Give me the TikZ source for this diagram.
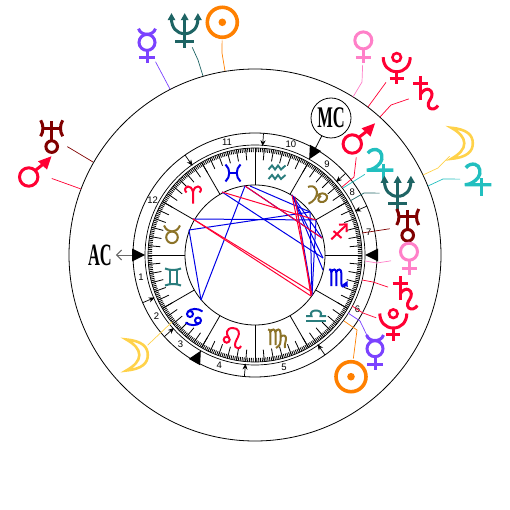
\documentclass[tikz,border=0pt]{standalone}
\usepackage{fontspec}
\usepackage{graphicx}
\usepackage{xcolor}
\usetikzlibrary{arrows.meta,calc}
\setmainfont{Liberation Serif}
\setsansfont{Liberation Sans}
\definecolor{redglyph}{HTML}{ff0033}
\definecolor{maroonglyph}{HTML}{800000}
\definecolor{pinkglyph}{HTML}{ff80c8}
\definecolor{purpleglyph}{HTML}{7b42ff}
\definecolor{orangeglyph}{HTML}{ff8000}
\definecolor{yellowglyph}{HTML}{ffd24a}
\definecolor{aquaglyph}{HTML}{22bfbf}
\definecolor{tealglyph}{HTML}{1e6464}
\definecolor{greenglyph}{HTML}{2a7d7d}
\definecolor{oliveglyph}{HTML}{8c7328}
\definecolor{blueglyph}{HTML}{0000e6}
\tikzset{
    planet/.style={circle, inner sep=0pt, minimum size=36pt},
    link/.style={line width=0.7pt},
    aspect/.style={line width=1pt},
    heavy/.style={line width=3pt},
    medium/.style={line width=2pt},
    % Planets
    pics/venus/.style={code={
        \draw[heavy] (0,-6.3) circle (8.5);
        \draw[heavy] (0,2.2) -- (0,16.5) (-7.5,10.5) -- (7.5,10.5);
    }},
    pics/mercury/.style={code={
        \draw[heavy] (0,-3.3) circle (8);
        \draw[heavy] (-8.5,-17) .. controls (-7,-12.5) and (-3,-11.5) .. (0,-11.5) .. controls (3,-11.5) and (7,-12.5) .. (8.5,-17);
        \draw[heavy] (0,4.7) -- (0,17.5) (-8,12) -- (8,12);
    }},
    pics/mars/.style={code={
        \draw[heavy] (-6,4.7) circle (9.2);
        \draw[heavy] (0.6,-1.9) -- (9,-8.5);
        \fill (16.7,-16) -- (3.3,-11) -- (12.3,-2.7) -- cycle;
    }},
    pics/jupiter/.style={code={
        \draw[line width=3.4pt] (-12.5,-11.5) .. controls (-10,-15) and (-6,-15.5) .. (-3.5,-15) .. controls (2,-14) and (3,-6) .. (0,-2) .. controls (-3,2) and (-8,5.5) .. (-13.5,5.5) -- (13,5.5);
        \draw[line width=3.4pt] (3,-1) -- (3,16.7);
    }},
    pics/saturn/.style={code={
        \draw[heavy] (-5.3,-17) -- (-5.3,7) (-12.7,-9.7) -- (2.3,-9.7);
        \draw[heavy] (-5.3,1) .. controls (-3,-3) and (1,-4.5) .. (3,-3.5) .. controls (7,-1.5) and (6.5,3) .. (4.5,6) .. controls (2.5,9) and (1,12) .. (3.5,15) .. controls (6,17) and (10,16) .. (12,12.5);
    }},
    pics/uranus/.style={code={
        \draw[heavy] (0,-16) -- (0,3.5) (-9.5,-9) -- (9.5,-9);
        \draw[heavy] (-11,-17) .. controls (-8,-12) and (-8,-6) .. (-11,-1);
        \draw[heavy] (11,-17) .. controls (8,-12) and (8,-6) .. (11,-1);
        \draw[heavy] (0,9.3) circle (5.8);
    }},
    pics/neptune/.style={code={
        \draw[heavy] (-13.2,-12) .. controls (-13.2,-3) and (-8,3) .. (0,3) .. controls (8,3) and (13.2,-3) .. (13.2,-12);
        \draw[heavy] (0,-12) -- (0,17) (-9.5,10.7) -- (9.5,10.7);
        \foreach \x in {-13.2,0,13.2}
            \fill (\x,-17.5) -- (\x+4,-10.5) -- (\x-4,-10.5) -- cycle;
    }},
    pics/pluto/.style={code={
        \draw[line width=2.6pt] (0,-10.3) circle (4.3);
        \draw[heavy] (-13.5,-10.5) .. controls (-13.5,-2) and (-8,4) .. (0,4) .. controls (8,4) and (13.5,-2) .. (13.5,-10.5);
        \draw[heavy] (0,4) -- (0,16.7) (-7,10.7) -- (7,10.7);
    }},
    pics/sun/.style={code={
        \draw[line width=3.6pt] (0,0) circle (15);
        \fill (0,0) circle (3.8);
    }},
    pics/moon/.style={code={
        \draw[line width=2.6pt, line join=miter] (-11,-15.5) .. controls (5,-14) and (10.5,-8) .. (10.5,0) .. controls (10.5,8) and (5,14) .. (-11,15.5) .. controls (-3,11) and (2,6) .. (2,0) .. controls (2,-6) and (-3,-11) .. cycle;
    }},
    % Signs
    pics/aries/.style={code={
        \draw[medium] (0,8.7) -- (0,-3) .. controls (-1,-7) and (-3,-8.7) .. (-5,-8.5) .. controls (-8,-8) and (-9,-4.5) .. (-6.5,-2.5);
        \draw[medium] (0,-3) .. controls (1,-7) and (3,-8.7) .. (5,-8.5) .. controls (8,-8) and (9,-4.5) .. (6.5,-2.5);
    }},
    pics/taurus/.style={code={
        \draw[medium] (0,3.3) circle (5.8);
        \draw[medium] (-8,-8.5) .. controls (-6,-4) and (-3,-2.5) .. (0,-2.5) .. controls (3,-2.5) and (6,-4) .. (8,-8.5);
    }},
    pics/gemini/.style={code={
        \draw[medium] (-8,-8.5) .. controls (-3,-6.5) and (3,-6.5) .. (8,-8.5);
        \draw[medium] (-8,8.5) .. controls (-3,6.5) and (3,6.5) .. (8,8.5);
        \draw[medium] (-3.5,-7) -- (-3.5,7) (3.5,-7) -- (3.5,7);
    }},
    pics/cancer/.style={code={
        \draw[medium] (-4,-3) circle (3);
        \draw[medium] (4,3.5) circle (3);
        \draw[medium] (-6.5,-5) .. controls (-3,-9) and (4,-9) .. (8.5,-5.5);
        \draw[medium] (6.5,5.5) .. controls (3,9) and (-4,9) .. (-8.5,5.5);
    }},
    pics/leo/.style={code={
        \draw[medium] (-5.3,1.7) circle (3);
        \draw[medium] (-3.5,-0.8) .. controls (-6,-4) and (-6,-10) .. (0.7,-10) .. controls (7,-10) and (8,-5) .. (6,-1) .. controls (4,3) and (2,6) .. (3.5,9) .. controls (4.5,11) and (8,11) .. (9,8);
    }},
    pics/virgo/.style={code={
        \draw[medium] (-9,-8.5) .. controls (-7,-9.5) and (-6.7,-7) .. (-6.7,-5) -- (-6.7,7);
        \draw[medium] (-6.7,-6) .. controls (-5,-9.5) and (-1.5,-9.5) .. (-1.5,-5) -- (-1.5,7);
        \draw[medium] (-1.5,-6) .. controls (0,-9.5) and (3.5,-9.5) .. (3.5,-5) -- (3.5,3) .. controls (3.5,7) and (1,9) .. (-1,10);
        \draw[medium] (3.5,-1) .. controls (6,-4) and (9.5,-2.5) .. (9,1) .. controls (8.5,5) and (7,8) .. (8,10);
    }},
    pics/libra/.style={code={
        \draw[medium] (-10,5) -- (10,5);
        \draw[medium] (-10,0) -- (-4.5,0) .. controls (-6.5,-4) and (-3,-5.5) .. (0,-5.5) .. controls (3,-5.5) and (6.5,-4) .. (4.5,0) -- (10,0);
    }},
    pics/scorpio/.style={code={
        \draw[medium] (-9,-8.5) .. controls (-7.5,-9.5) and (-6.7,-8) .. (-6.7,-5) -- (-6.7,8);
        \draw[medium] (-6.7,-6) .. controls (-5,-9.5) and (-1.7,-9.5) .. (-1.7,-5) -- (-1.7,8);
        \draw[medium] (-1.7,-6) .. controls (0,-9.5) and (3.3,-9.5) .. (3.3,-5) -- (3.3,5) .. controls (3.3,9) and (6,10) .. (8,6);
        \fill (9.5,3) -- (9.8,9) -- (4.5,6.5) -- cycle;
    }},
    pics/sagittarius/.style={code={
        \draw[medium] (-7.7,7.3) -- (7,-6.7);
        \draw[medium] (-5.5,-1) -- (2.5,6);
        \draw[medium] (0,-7.3) -- (7.7,-7.7) -- (7.7,0);
    }},
    pics/capricorn/.style={code={
        \draw[medium] (-10,-8) .. controls (-7,-9.5) and (-4,-9) .. (-2,-6) -- (-1,-3) .. controls (-1,2) and (-4,6.5) .. (-9.5,8.7);
        \draw[medium] (-1,1) .. controls (2,-2.5) and (7,-2.5) .. (9,1) .. controls (10,4.5) and (6,8) .. (2.5,7) .. controls (-1,6) and (0,2) .. (3,1);
    }},
    pics/aquarius/.style={code={
        \foreach \y in {-5,4.5}
            \draw[line width=1.9pt, yshift=\y pt] (-8.5,2) -- (-5,-2) -- (-2,2) -- (1,-2) -- (4,2) -- (8.5,-2);
    }},
    pics/pisces/.style={code={
        \draw[medium] (-7.5,-8.5) .. controls (-2.5,-4) and (-2.5,4) .. (-7.5,8.5);
        \draw[medium] (7.5,-8.5) .. controls (2.5,-4) and (2.5,4) .. (7.5,8.5);
        \draw[medium] (-4,0) -- (4,0);
    }}
}

\begin{document}
\begin{tikzpicture}[x=1pt, y=-1pt]
    \useasboundingbox (0,0) rectangle (510,510);

    % Wheel
    \begin{scope}[shift={(255,255)}, y=1pt]
        \draw[line width=0.8pt] (0,0) circle (186);
        \draw[line width=0.8pt] (0,0) circle (122);
        \draw[line width=0.7pt] (0,0) circle (110);
        \draw[line width=0.7pt] (0,0) circle (107);
        \draw[line width=0.8pt] (0,0) circle (70);
        \foreach \a in {0,1,...,359} \draw[line width=0.8pt] (\a:107) -- (\a:103);
        \foreach \a in {0,5,...,355} \draw[line width=0.8pt] (\a:107) -- (\a:95);
        \foreach \a in {0,30,...,330} \draw[line width=0.8pt] (\a:107) -- (\a:70);
        % House marks
        \foreach \a in {23.6,42,86,125,203,222,265,305}
            \draw[-{Stealth[length=6pt,width=5pt]}, line width=0.7pt] (\a:122) -- (\a:109);
        \foreach \a in {0,60.5,180,240.5}
            \fill[rotate=\a] (110,0) -- (123,6.5) -- (123,-6.5) -- cycle;
        % House numbers
        \foreach \a/\t in {191/1,212/2,230/3,252/4,284.5/5,332/6,11.5/7,33/8,51.6/9,72/10,104/11,152/12}
            \node[font=\sffamily\fontsize{9.5}{9.5}\selectfont, inner sep=0pt] (house\t) at (\a:116) {\t};
        \coordinate (acmark) at (180:123);
        \coordinate (mcmark) at (60.5:123);
    \end{scope}

    % Signs
    \pic[redglyph] at (193,195) {aries};
    \pic[oliveglyph] at (172,234) {taurus};
    \pic[greenglyph] at (173,277) {gemini};
    \pic[blueglyph] at (194,317) {cancer};
    \pic[redglyph] at (232,338) {leo};
    \pic[oliveglyph] at (277,338) {virgo};
    \pic[greenglyph] at (316,316) {libra};
    \pic[blueglyph] at (338,278) {scorpio};
    \pic[redglyph] at (339,232) {sagittarius};
    \pic[oliveglyph] at (318,195) {capricorn};
    \pic[greenglyph] at (277,172) {aquarius};
    \pic[blueglyph] at (233,173) {pisces};

    % Angles
    \node[circle, draw, line width=0.8pt, minimum size=40pt, inner sep=0pt] (mc) at (331,118) {\scalebox{0.55}[1]{\bfseries\fontsize{30}{30}\selectfont MC}};
    \node[inner sep=0pt, outer sep=4pt] (ac) at (100,255) {\scalebox{0.53}[1]{\bfseries\fontsize{31}{31}\selectfont AC}};
    \draw[line width=0.8pt] (mc) -- (mcmark);
    \draw[-{Straight Barb[length=5pt,width=10pt]}, line width=1pt, black!60] (acmark) -- (ac);

    % Outer planets
    \node[planet] (venusout) at (363.3,46.7) {}; \pic[pinkglyph] at (venusout) {venus};
    \node[planet] (plutoout) at (396.7,67.7) {}; \pic[redglyph] at (plutoout) {pluto};
    \node[planet] (saturnout) at (426,93) {}; \pic[redglyph] at (saturnout) {saturn};
    \node[planet] (moonout) at (462.3,143.3) {}; \pic[yellowglyph] at (moonout) {moon};
    \node[planet] (jupiterout) at (478.3,179.3) {}; \pic[aquaglyph] at (jupiterout) {jupiter};
    \node[planet] (uranusout) at (51.7,137.3) {}; \pic[maroonglyph] at (uranusout) {uranus};
    \node[planet] (marsout) at (34.7,172.3) {}; \pic[redglyph] at (marsout) {mars};
    \node[planet] (mercuryout) at (147,45.7) {}; \pic[purpleglyph] at (mercuryout) {mercury};
    \node[planet] (neptuneout) at (184.7,30.7) {}; \pic[tealglyph] at (neptuneout) {neptune};
    \node[planet] (sunout) at (222.3,22.3) {}; \pic[orangeglyph] at (sunout) {sun};

    % Inner planets
    \node[planet] (marsin) at (358.3,139.3) {}; \pic[redglyph] at (marsin) {mars};
    \node[planet] (jupiterin) at (380.3,164.7) {}; \pic[aquaglyph] at (jupiterin) {jupiter};
    \node[planet] (neptunein) at (397.7,193.3) {}; \pic[tealglyph] at (neptunein) {neptune};
    \node[planet] (uranusin) at (407.7,226) {}; \pic[maroonglyph] at (uranusin) {uranus};
    \node[planet] (venusin) at (409,258) {}; \pic[pinkglyph] at (venusin) {venus};
    \node[planet] (saturnin) at (405.3,293) {}; \pic[redglyph] at (saturnin) {saturn};
    \node[planet] (plutoin) at (393.3,324) {}; \pic[redglyph] at (plutoin) {pluto};
    \node[planet] (mercuryin) at (375,352) {}; \pic[purpleglyph] at (mercuryin) {mercury};
    \node[planet] (sunin) at (351,376.7) {}; \pic[orangeglyph] at (sunin) {sun};
    \node[planet, minimum size=28pt] (moonin) at (137.3,355) {}; \pic[yellowglyph] at (moonin) {moon};

    % Link ends on the rings
    \coordinate (venusoutend) at (353,97);
    \coordinate (plutooutend) at (368,107);
    \coordinate (saturnoutend) at (380,117);
    \coordinate (moonoutend) at (423,175);
    \coordinate (jupiteroutend) at (428,186);
    \coordinate (uranusoutend) at (93,162);
    \coordinate (marsoutend) at (81,189);
    \coordinate (mercuryoutend) at (170,89);
    \coordinate (neptuneoutend) at (203,76);
    \coordinate (sunoutend) at (225,71);
    \coordinate (marsinend) at (342,187);
    \coordinate (jupiterinend) at (343,188);
    \coordinate (neptuneinend) at (350,201);
    \coordinate (uranusinend) at (362,233);
    \coordinate (venusinend) at (365,261);
    \coordinate (saturninend) at (362,280);
    \coordinate (plutoinend) at (352,306);
    \coordinate (mercuryinend) at (348,313);
    \coordinate (suninend) at (344,321);
    \coordinate (mooninend) at (172,322);

    % Links
    \draw[link, pinkglyph] (venusout) -- (362,82) -- (venusoutend);
    \draw[link, redglyph] (plutoout) -- (plutooutend);
    \draw[link, redglyph] (saturnout) -- (391,105) -- (saturnoutend);
    \draw[link, yellowglyph] (moonout) -- (438,168) -- (moonoutend);
    \draw[link, aquaglyph] (jupiterout) -- (443,179) -- (jupiteroutend);
    \draw[link, maroonglyph] (uranusout) -- (uranusoutend);
    \draw[link, redglyph] (marsout) -- (marsoutend);
    \draw[link, purpleglyph] (mercuryout) -- (mercuryoutend);
    \draw[link, tealglyph] (neptuneout) -- (198,60) -- (neptuneoutend);
    \draw[link, orangeglyph] (sunout) -- (222,53) -- (sunoutend);
    \draw[link, redglyph] (marsin) -- (354,177) -- (marsinend);
    \draw[link, aquaglyph] (jupiterin) -- (jupiterinend);
    \draw[link, tealglyph] (neptunein) -- (364,193) -- (neptuneinend);
    \draw[link, maroonglyph] (uranusin) -- (uranusinend);
    \draw[link, pinkglyph] (venusin) -- (377,263) -- (venusinend);
    \draw[link, redglyph] (saturnin) -- (373,282) -- (saturninend);
    \draw[link, redglyph] (plutoin) -- (363,313) -- (plutoinend);
    \draw[link, purpleglyph] (mercuryin) -- (360,321) -- (mercuryinend);
    \draw[link, orangeglyph] (sunin) -- (357,330) -- (suninend);
    \draw[link, yellowglyph] (moonin) -- (mooninend);

    % Aspect lines
    \coordinate (pa) at (193,219);
    \coordinate (pb) at (189,230);
    \coordinate (pc) at (201,300);
    \coordinate (pd) at (222,192);
    \coordinate (pe) at (245,186);
    \coordinate (pf) at (292,195);
    \coordinate (pg) at (295,197);
    \coordinate (ph) at (310,212);
    \coordinate (pi) at (316,220);
    \coordinate (pj) at (322,238);
    \coordinate (pk) at (323,258);
    \coordinate (pl) at (323,270);
    \coordinate (pm) at (312,295);
    \coordinate (pn) at (311,296);
    \coordinate (po) at (312,292);
    \coordinate (pq) at (250,186);
    \foreach \s/\e in {pa/pi,pb/ph,pb/pc,pc/pe,pd/pk,pe/pj,pq/ph,pf/pk,pf/pl,pg/pm,pi/pm,ph/pm,pf/pj}
        \draw[aspect, blueglyph] (\s) -- (\e);
    \foreach \s/\e in {pa/po,pa/pn,pd/pi,pe/pj,pf/pm,pg/pn}
        \draw[aspect, redglyph] (\s) -- (\e);
\end{tikzpicture}
\end{document}
